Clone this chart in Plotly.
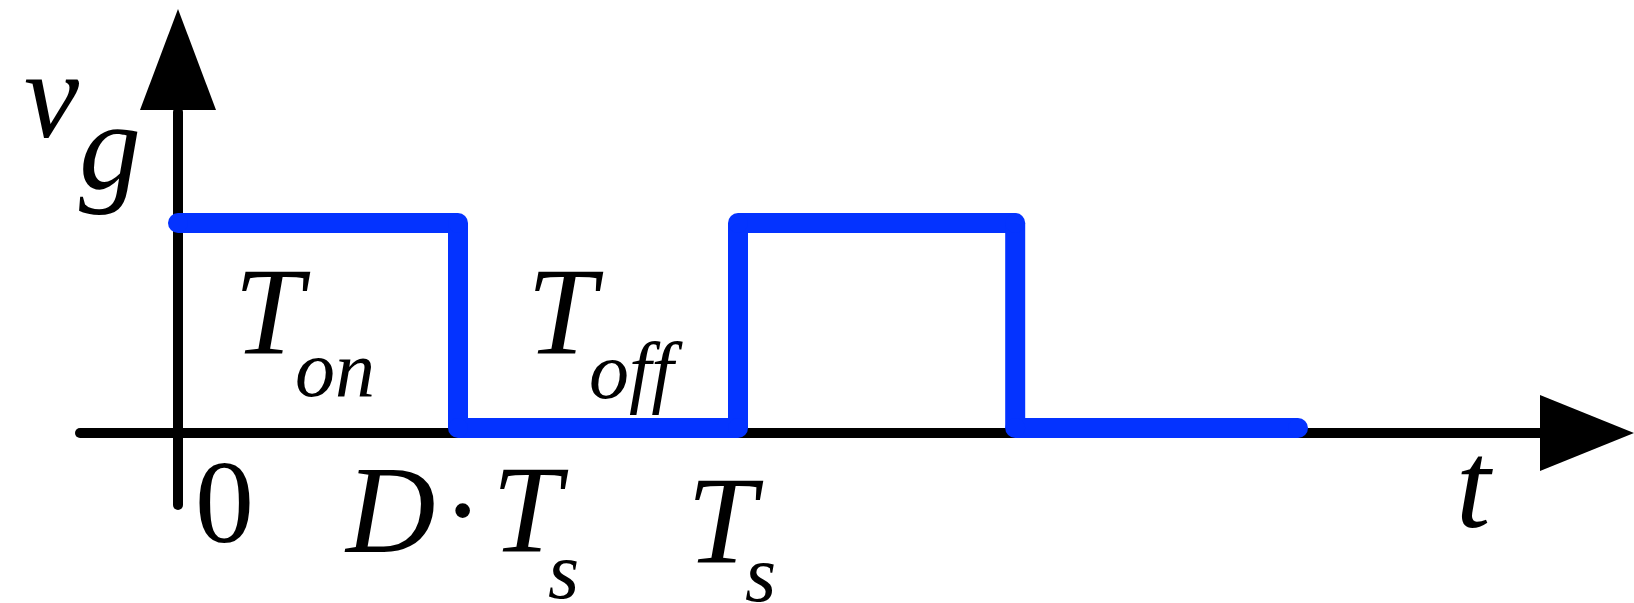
"""
Gate-drive PWM waveform v_g(t): one and a half switching periods.
"""

import plotly.graph_objects as go

# waveform data (time in units of Ts, level normalised to 1)
t_points = [0.0, 0.5, 0.5, 1.0, 1.0, 1.495, 1.495, 2.0]
v_points = [1, 1, 0, 0, 1, 1, 0, 0]

# labels under the time axis
tick_times = [0.0, 0.5, 1.0]
tick_labels = ["0", "D·Ts", "Ts"]

BLUE = "#0433FF"
FONT = "Liberation Serif, Times New Roman, serif"
W, H = 1634, 603

# pixel mapping of the drawing: origin of the axes and units
X0, SX = 178, 560
Y0, SY = 428, 205


def tx(px):
    return (px - X0) / SX


def vy(py):
    return (Y0 - py) / SY


fig = go.Figure()

# axes (round dots at the tail ends)
axis_line = dict(color="black", width=10)
axis_marker = dict(size=10, color="black", line=dict(width=0))
fig.add_trace(
    go.Scatter(
        x=[tx(178), tx(178)],
        y=[vy(505), vy(112)],
        mode="lines+markers",
        line=axis_line,
        marker=axis_marker,
        hoverinfo="skip",
        showlegend=False,
    )
)
fig.add_trace(
    go.Scatter(
        x=[tx(80), tx(1542)],
        y=[vy(433), vy(433)],
        mode="lines+markers",
        line=axis_line,
        marker=axis_marker,
        hoverinfo="skip",
        showlegend=False,
    )
)

# the switching waveform, one segment at a time so the corners come out round
seg_t, seg_v = [], []
for i in range(len(t_points) - 1):
    seg_t += [t_points[i], t_points[i + 1], None]
    seg_v += [v_points[i], v_points[i + 1], None]

fig.add_trace(
    go.Scatter(
        x=seg_t,
        y=seg_v,
        mode="lines",
        line=dict(color=BLUE, width=20),
        hoverinfo="skip",
        showlegend=False,
    )
)
fig.add_trace(
    go.Scatter(
        x=t_points,
        y=v_points,
        mode="markers",
        marker=dict(size=20, color=BLUE, line=dict(width=0)),
        hoverinfo="skip",
        showlegend=False,
    )
)

# arrow heads
up_arrow = f"M {tx(178)},{vy(9)} L {tx(140)},{vy(110)} L {tx(216)},{vy(110)} Z"
right_arrow = f"M {tx(1634)},{vy(433)} L {tx(1540)},{vy(395)} L {tx(1540)},{vy(471)} Z"
for path in (up_arrow, right_arrow):
    fig.add_shape(type="path", path=path, xref="x", yref="y",
                  fillcolor="black", line=dict(width=0))


def add_text(text, px, baseline, size, italic=True):
    """Place a glyph so that its baseline sits at the given pixel row."""
    ycenter = baseline - 0.3375 * size
    fig.add_annotation(
        x=tx(px),
        y=vy(ycenter),
        xref="x",
        yref="y",
        text=f"<i>{text}</i>" if italic else text,
        showarrow=False,
        xanchor="center",
        yanchor="middle",
        font=dict(family=FONT, size=size, color="black"),
    )


MAIN, SUB = 124, 80

# axis names
add_text("v", 52, 137, MAIN)
add_text("g", 110, 188, MAIN)
add_text("t", 1474, 527, MAIN)

# interval names
add_text("T", 272, 354, MAIN)
add_text("on", 335, 396, SUB)
add_text("T", 565, 354, MAIN)
add_text("off", 636, 398, SUB)

# time-axis labels
add_text(tick_labels[0], X0 + SX * tick_times[0] + 46, 542, 118, italic=False)
dts = X0 + SX * tick_times[1]
add_text("D", dts - 68, 552, MAIN)
add_text("·", dts + 4, 552, MAIN, italic=False)
add_text("T", dts + 72, 552, MAIN)
add_text("s", dts + 105, 598, SUB)
ts = X0 + SX * tick_times[2]
add_text("T", ts - 13, 563, MAIN)
add_text("s", ts + 22, 601, SUB)

fig.update_layout(
    width=W,
    height=H,
    margin=dict(l=0, r=0, t=0, b=0),
    paper_bgcolor="white",
    plot_bgcolor="white",
    showlegend=False,
    xaxis=dict(range=[tx(0), tx(W)], visible=False, fixedrange=True),
    yaxis=dict(range=[vy(H), vy(0)], visible=False, fixedrange=True),
)

# drop the browser's default page margin so the drawing sits at (0, 0)
fig.write_html(
    "out.html",
    config={"displayModeBar": False},
    post_script="document.body.style.margin = '0';",
)
